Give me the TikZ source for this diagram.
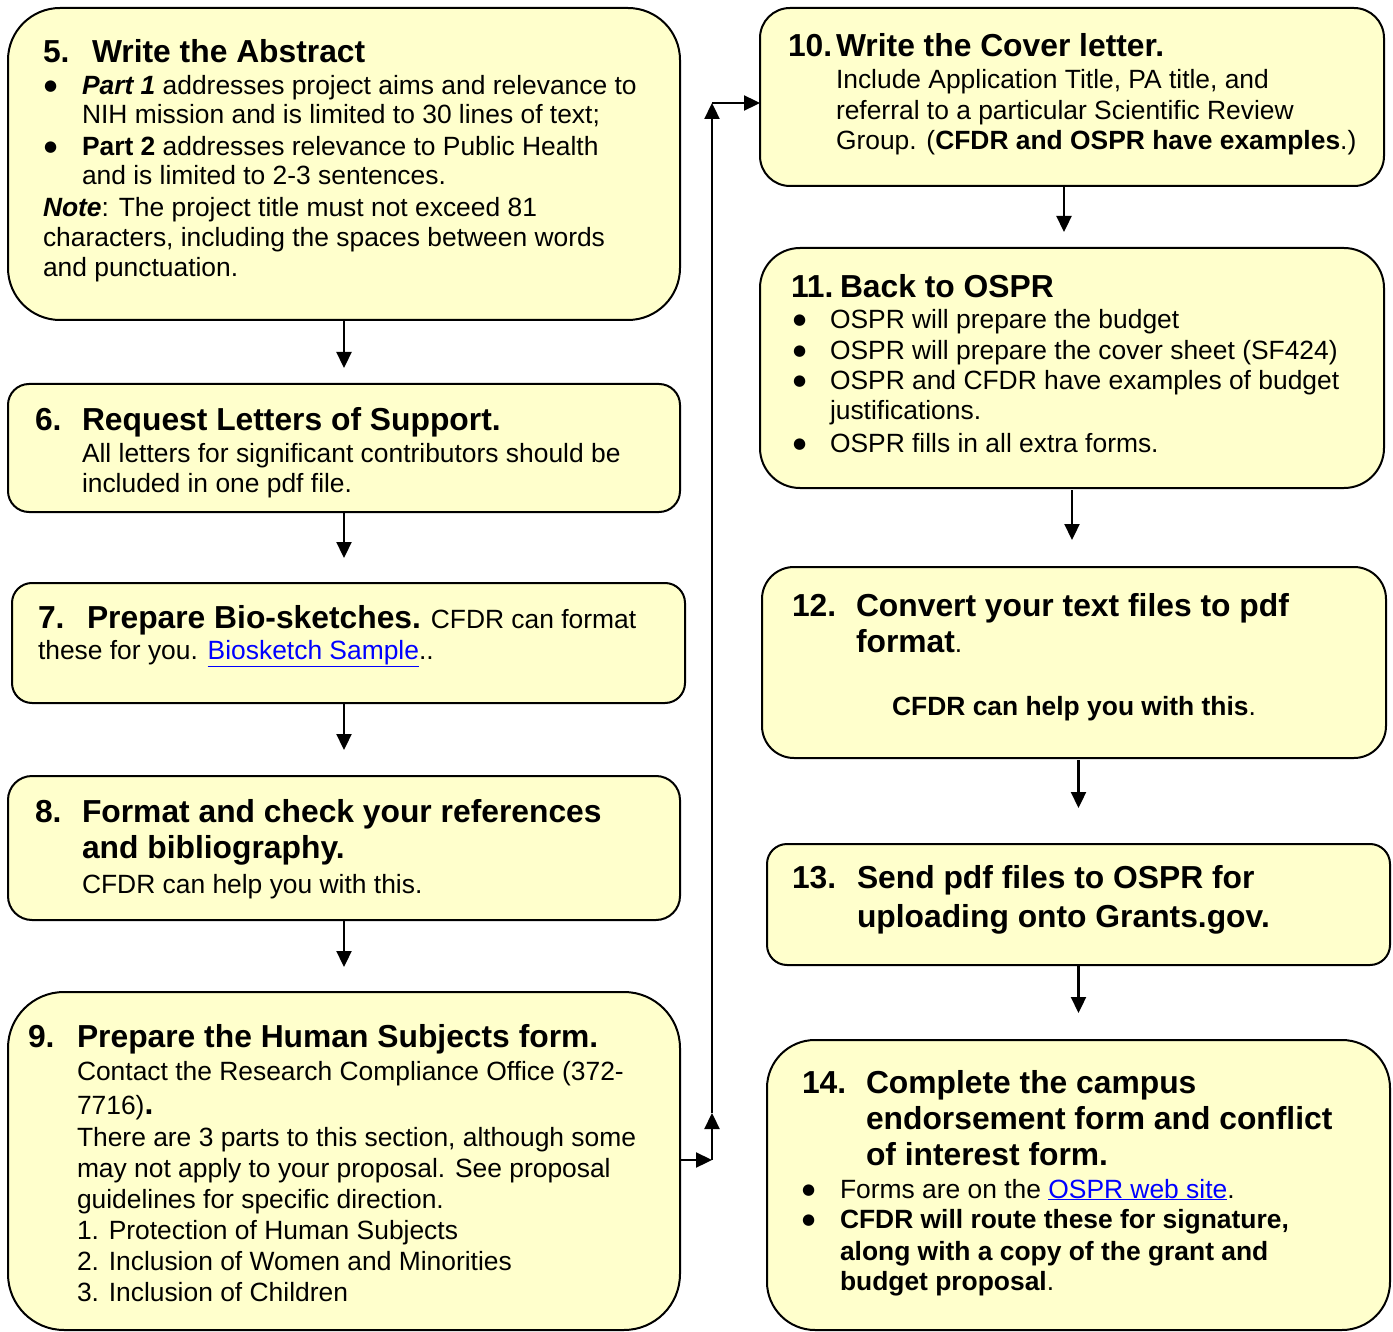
\documentclass[tikz,border=0pt]{standalone}
\usepackage{fontspec}
\setmainfont{Liberation Sans}
\newfontfamily\dejavu{DejaVu Sans}
\usetikzlibrary{arrows.meta}
\definecolor{boxfill}{HTML}{FFFFCC}
\definecolor{linkblue}{HTML}{0000FF}
\newcommand\bodyf{\fontsize{26.4}{30.4}\selectfont}
\newcommand\headf{\fontsize{31.8}{36}\selectfont\bfseries}
\newcommand\lnk[1]{\textcolor{linkblue}{\underline{#1}}}
\newcommand\bul{\raisebox{4pt}{\dejavu\fontsize{15}{15}\selectfont ●}}
\begin{document}
\begin{tikzpicture}[x=1pt,y=-1pt,
  stepbox/.style={draw=black, line width=2pt, fill=boxfill, inner sep=0pt, outer sep=0pt},
  txt/.style={anchor=base west, inner sep=0pt, outer sep=0pt, font=\bodyf},
  bl/.style={anchor=base west, inner sep=0pt, outer sep=0pt},
  hd/.style={anchor=base west, inner sep=0pt, outer sep=0pt, font=\headf},
  arr/.style={line width=2.3pt, -{Triangle[length=16pt,width=15pt]}}]
\useasboundingbox (0,0) rectangle (1393,1332);

% ---------------- boxes ----------------
\node[stepbox, rounded corners=52, minimum width=672, minimum height=312] (b5) at (344,164) {};
\node[stepbox, rounded corners=21, minimum width=672, minimum height=128] (b6) at (344,448) {};
\node[stepbox, rounded corners=20, minimum width=673, minimum height=120] (b7) at (348.5,643) {};
\node[stepbox, rounded corners=24, minimum width=672, minimum height=144] (b8) at (344,848) {};
\node[stepbox, rounded corners=56, minimum width=672, minimum height=338] (b9) at (344,1161) {};
\node[stepbox, rounded corners=30, minimum width=624, minimum height=178] (b10) at (1072,97) {};
\node[stepbox, rounded corners=40, minimum width=624, minimum height=240] (b11) at (1072,368) {};
\node[stepbox, rounded corners=32, minimum width=624, minimum height=191] (b12) at (1074,662.5) {};
\node[stepbox, rounded corners=20, minimum width=623, minimum height=121] (b13) at (1078.5,904.5) {};
\node[stepbox, rounded corners=48, minimum width=623, minimum height=290] (b14) at (1078.5,1185) {};

% ---------------- box 5 ----------------
\node[hd] (n5) at (43,63) {5.};
\node[hd] (h5) at (92,63) {Write the Abstract};
\node[bl] (u5a) at (44,95) {\bul};
\node[txt] (t5a) at (82,95) {\textbf{\textit{Part 1}} addresses project aims and relevance to};
\node[txt] (t5b) at (82,124) {NIH mission and is limited to 30 lines of text;};
\node[bl] (u5b) at (44,156) {\bul};
\node[txt] (t5c) at (82,156) {\textbf{Part 2} addresses relevance to Public Health};
\node[txt] (t5d) at (82,185) {and is limited to 2-3 sentences.};
\node[txt] (t5e) at (43,217) {\textbf{\textit{Note}}: The project title must not exceed 81};
\node[txt] (t5f) at (43,247) {characters, including the spaces between words};
\node[txt] (t5g) at (43,277) {and punctuation.};

% ---------------- box 6 ----------------
\node[hd] (n6) at (35,430) {6.};
\node[hd] (h6) at (82,430) {Request Letters of Support.};
\node[txt] (t6a) at (82,462) {All letters for significant contributors should be};
\node[txt] (t6b) at (82,492) {included in one pdf file.};

% ---------------- box 7 ----------------
\node[hd] (n7) at (38,628) {7.};
\node[txt] (h7) at (87,628) {{\headf Prepare Bio-sketches.} CFDR can format};
\node[txt] (t7a) at (38,659) {these for you. \lnk{Biosketch Sample}..};

% ---------------- box 8 ----------------
\node[hd] (n8) at (35,822) {8.};
\node[hd] (h8a) at (82,822) {Format and check your references};
\node[hd] (h8b) at (82,858) {and bibliography.};
\node[txt] (t8a) at (82,893) {CFDR can help you with this.};

% ---------------- box 9 ----------------
\node[hd] (n9) at (28,1047) {9.};
\node[hd] (h9) at (77,1047) {Prepare the Human Subjects form.};
\node[txt] (t9a) at (77,1080) {Contact the Research Compliance Office (372-};
\node[txt] (t9b) at (77,1114) {7716){\headf .}};
\node[txt] (t9c) at (77,1146) {There are 3 parts to this section, although some};
\node[txt] (t9d) at (77,1177) {may not apply to your proposal. See proposal};
\node[txt] (t9e) at (77,1208) {guidelines for specific direction.};
\node[txt] (t9f) at (77,1239) {1. Protection of Human Subjects};
\node[txt] (t9g) at (77,1270) {2. Inclusion of Women and Minorities};
\node[txt] (t9h) at (77,1301) {3. Inclusion of Children};

% ---------------- box 10 ----------------
\node[hd] (n10) at (788,57) {10.};
\node[hd] (h10) at (836,57) {Write the Cover letter.};
\node[txt] (t10a) at (836,89) {Include Application Title, PA title, and};
\node[txt] (t10b) at (836,120) {referral to a particular Scientific Review};
\node[txt] (t10c) at (836,150) {Group. (\textbf{CFDR and OSPR have examples}.)};

% ---------------- box 11 ----------------
\node[hd] (n11) at (791,298) {11.};
\node[hd] (h11) at (840,298) {Back to OSPR};
\node[bl] (u11a) at (793,329) {\bul};
\node[txt] (t11a) at (830,329) {OSPR will prepare the budget};
\node[bl] (u11b) at (793,360) {\bul};
\node[txt] (t11b) at (830,360) {OSPR will prepare the cover sheet (SF424)};
\node[bl] (u11c) at (793,390) {\bul};
\node[txt] (t11c) at (830,390) {OSPR and CFDR have examples of budget};
\node[txt] (t11d) at (830,420) {justifications.};
\node[bl] (u11e) at (793,452) {\bul};
\node[txt] (t11e) at (830,452) {OSPR fills in all extra forms.};

% ---------------- box 12 ----------------
\node[hd] (n12) at (792,616) {12.};
\node[hd] (h12a) at (856,616) {Convert your text files to pdf};
\node[txt] (h12b) at (856,652) {{\headf format}.};
\node[txt, anchor=base] (t12a) at (1074,715) {\textbf{CFDR can help you with this}.};

% ---------------- box 13 ----------------
\node[hd] (n13) at (792,888) {13.};
\node[hd] (h13a) at (857,888) {Send pdf files to OSPR for};
\node[hd] (h13b) at (857,927) {uploading onto Grants.gov.};

% ---------------- box 14 ----------------
\node[hd] (n14) at (802,1093) {14.};
\node[hd] (h14a) at (866,1093) {Complete the campus};
\node[hd] (h14b) at (866,1129) {endorsement form and conflict};
\node[hd] (h14c) at (866,1165) {of interest form.};
\node[bl] (u14a) at (802,1198) {\bul};
\node[txt] (t14a) at (840,1198) {Forms are on the \lnk{OSPR web site}.};
\node[bl] (u14b) at (802,1228) {\bul};
\node[txt] (t14b) at (840,1228) {\textbf{CFDR will route these for signature,}};
\node[txt] (t14c) at (840,1260) {\textbf{along with a copy of the grant and}};
\node[txt] (t14d) at (840,1290) {\textbf{budget proposal}.};

% ---------------- connectors ----------------
\draw[arr, shorten >=16pt] (b5.south) -- (b5.south |- b6.north);
\draw[arr, shorten >=25pt] (b6.south) -- (b6.south |- b7.north);
\draw[arr, shorten >=26pt] (b7.south -| b8.north) -- (b8.north);
\draw[arr, shorten >=25pt] (b8.south) -- (b9.north);

\draw[arr, shorten >=16pt] ([xshift=-8pt]b10.south) -- ([xshift=-8pt]b10.south |- b11.north);
\draw[arr, shorten <=2pt, shorten >=27pt] (b11.south) -- (b11.south |- b12.north);
\draw[arr, shorten <=2pt, shorten >=36pt] (b12.south -| b13.north) -- (b13.north);
\draw[arr, shorten >=27pt] (b13.south) -- (b14.north);

\coordinate (c1) at (712,1160);
\coordinate (c2) at (712,1113);
\coordinate (c3) at (712,103);
\draw[arr] (b9.east |- c1) -- (c1);
\draw[arr] (c1) -- (c2);
\draw[arr] (c2) -- (c3);
\draw[arr] (c3) -- (b10.west |- c3);
\end{tikzpicture}
\end{document}
